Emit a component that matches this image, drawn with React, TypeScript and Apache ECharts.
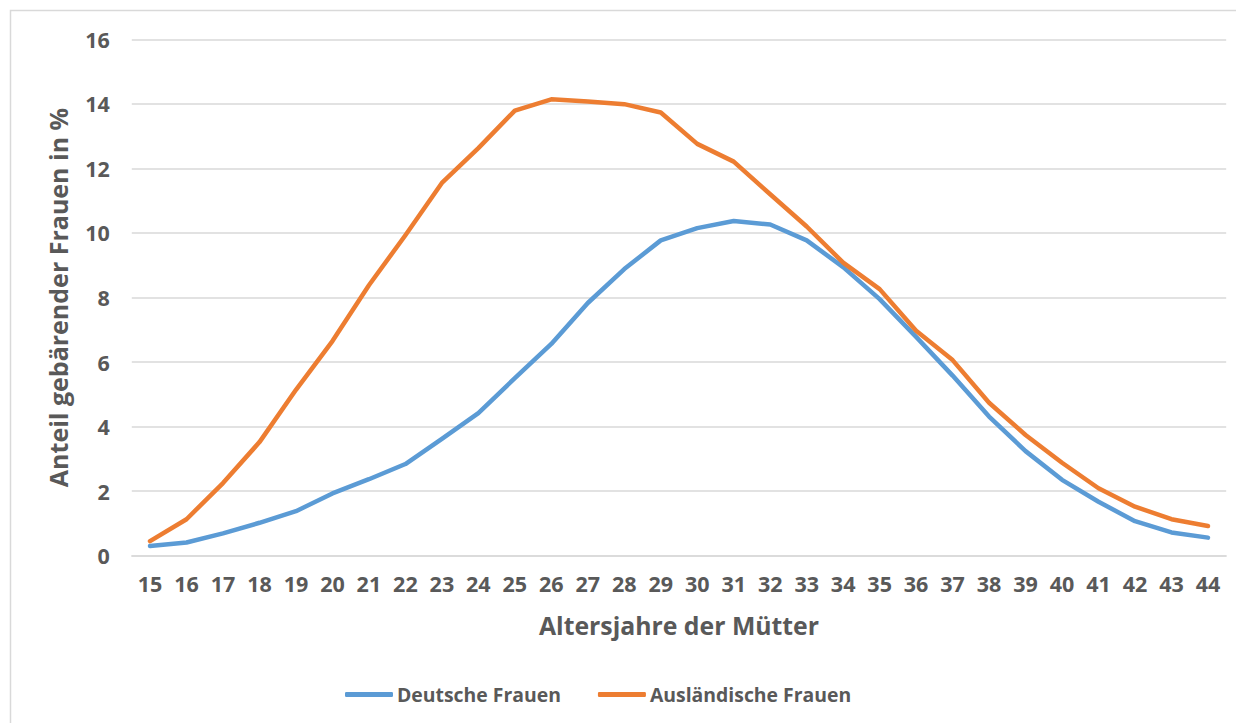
import React, { useEffect, useRef } from "react";
import * as echarts from "echarts";

const ages = ["15","16","17","18","19","20","21","22","23","24","25","26","27","28","29","30","31","32","33","34","35","36","37","38","39","40","41","42","43","44"];
const deutsche = [0.3,0.41,0.69,1.02,1.38,1.93,2.37,2.84,3.62,4.42,5.5,6.56,7.83,8.88,9.77,10.15,10.37,10.26,9.77,8.94,7.95,6.78,5.58,4.31,3.24,2.35,1.67,1.07,0.72,0.56];
const auslaendische = [0.45,1.13,2.25,3.52,5.14,6.65,8.38,9.93,11.55,12.63,13.79,14.14,14.07,13.99,13.73,12.76,12.21,11.2,10.2,9.08,8.26,6.97,6.06,4.74,3.74,2.88,2.09,1.52,1.13,0.92];
const seriesNames = ["Deutsche Frauen", "Ausländische Frauen"];
const colors = ["#5B9BD5", "#ED7D31"];

const FONT = "'Open Sans', 'Noto Sans', sans-serif";
const GREY = "#595959";

export default function App() {
  const ref = useRef<HTMLDivElement>(null);
  useEffect(() => {
    if (!ref.current) return;
    const chart = echarts.init(ref.current, null, { renderer: "svg" });
    chart.setOption({
      animation: false,
      backgroundColor: "#ffffff",
      graphic: [
        {
          type: "rect",
          shape: { x: 2.5, y: 2.5, width: 1400, height: 900 },
          style: { fill: "none", stroke: "#d9d9d9", lineWidth: 1.5 },
          silent: true,
        },
      ],
      grid: { left: 123.8, right: 17.8, top: 31.3, bottom: 167.3, containLabel: false },
      legend: {
        left: 332,
        top: 672,
        itemWidth: 48,
        itemHeight: 5,
        itemGap: 37,
        icon: "roundRect",
        data: seriesNames,
        textStyle: { fontFamily: FONT, fontWeight: "bold", fontSize: 19.4, color: GREY, padding: [0, 0, 0, -1] },
      },
      xAxis: {
        type: "category",
        data: ages,
        boundaryGap: true,
        name: "Altersjahre der Mütter",
        nameLocation: "middle",
        nameGap: 57,
        nameTextStyle: { fontFamily: FONT, fontWeight: "bold", fontSize: 24.8, color: GREY },
        axisLine: { show: true, lineStyle: { color: "#d9d9d9", width: 1.5 } },
        axisTick: { show: false },
        axisLabel: { fontFamily: FONT, fontWeight: "bold", fontSize: 21.5, color: GREY, margin: 17, interval: 0 },
      },
      yAxis: {
        type: "value",
        min: 0,
        max: 16,
        interval: 2,
        name: "Anteil gebärender Frauen in %",
        nameLocation: "middle",
        nameGap: 61,
        nameTextStyle: { fontFamily: FONT, fontWeight: "bold", fontSize: 25, color: GREY },
        axisLine: { show: false },
        axisTick: { show: false },
        axisLabel: { fontFamily: FONT, fontWeight: "bold", fontSize: 21.5, color: GREY, margin: 22 },
        splitLine: { lineStyle: { color: "#d9d9d9", width: 1.5 } },
      },
      series: [
        {
          name: seriesNames[0],
          type: "line",
          data: deutsche,
          showSymbol: false,
          symbol: "none",
          color: colors[0],
          lineStyle: { width: 4.5, color: colors[0], cap: "round", join: "round" },
        },
        {
          name: seriesNames[1],
          type: "line",
          data: auslaendische,
          showSymbol: false,
          symbol: "none",
          color: colors[1],
          lineStyle: { width: 4.5, color: colors[1], cap: "round", join: "round" },
        },
      ],
    });
    return () => chart.dispose();
  }, []);
  return <div ref={ref} style={{ width: 1236, height: 715 }} />;
}
